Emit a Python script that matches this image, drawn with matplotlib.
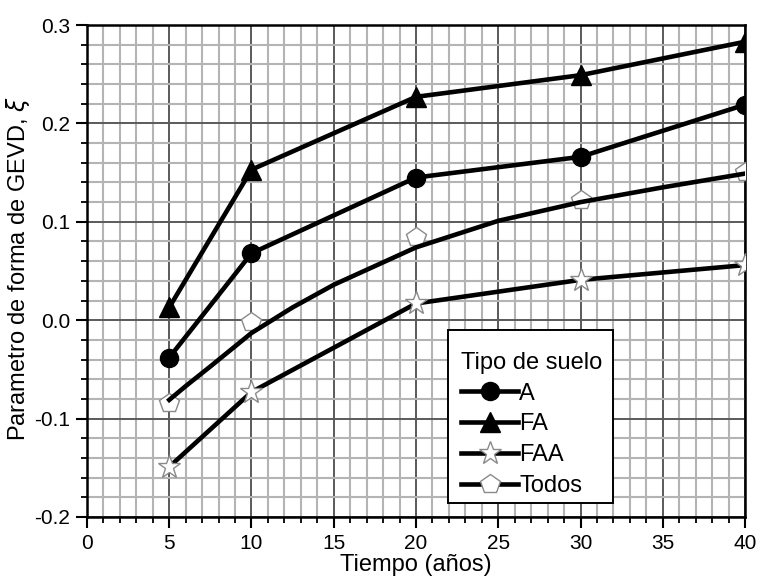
import matplotlib
matplotlib.use("Agg")
import matplotlib.pyplot as plt
from matplotlib.lines import Line2D
from matplotlib.patches import Rectangle
from matplotlib.ticker import MultipleLocator

plt.rcParams['font.family'] = ['Liberation Sans', 'DejaVu Sans']
plt.rcParams['mathtext.fontset'] = 'dejavusans'

# Return period (years) and GEVD shape parameter per soil type
tiempo = [5, 10, 20, 30, 40]
xi_A = [-0.038, 0.068, 0.145, 0.166, 0.219]
xi_FA = [0.013, 0.153, 0.227, 0.249, 0.283]
xi_FAA = [-0.149, -0.073, 0.017, 0.041, 0.056]
xi_todos = [-0.084, -0.002, 0.085, 0.122, 0.151]

# Fitted trend curve for all soils combined
tiempo_ajuste = [5, 6, 7.5, 10, 12.5, 15, 20, 25, 30, 35, 40]
todos_ajuste = [-0.081, -0.067, -0.047, -0.013, 0.013, 0.036, 0.074, 0.101,
                0.120, 0.135, 0.149]

fig = plt.figure(figsize=(7.59, 5.79), dpi=100)
ax = fig.add_axes([0.1146, 0.1071, 0.8670, 0.8497])

lw = 3.3
sty_A = dict(color='black', lw=lw, marker='o', ms=13, mfc='black', mec='black')
sty_FA = dict(color='black', lw=lw, marker='^', ms=14, mfc='black', mec='black')
sty_FAA = dict(color='black', lw=lw, marker='*', ms=17, mfc='white',
               mec='#8a8a8a', mew=1.0)
sty_T = dict(color='black', lw=lw, marker='p', ms=15, mfc='white',
             mec='#8a8a8a', mew=1.0)

ax.plot(tiempo, xi_A, zorder=5, **sty_A)
ax.plot(tiempo, xi_FA, zorder=5, **sty_FA)
ax.plot(tiempo, xi_FAA, zorder=5, **sty_FAA)
ax.plot(tiempo, xi_todos, ls='none', marker='p', ms=15, mfc='white',
        mec='#8a8a8a', mew=1.0, zorder=4)
ax.plot(tiempo_ajuste, todos_ajuste, color='black', lw=lw, zorder=5,
        solid_joinstyle='round')

ax.set_xlim(0, 40)
ax.set_ylim(-0.2, 0.3)
ax.xaxis.set_major_locator(MultipleLocator(5))
ax.xaxis.set_minor_locator(MultipleLocator(1))
ax.yaxis.set_major_locator(MultipleLocator(0.1))
ax.yaxis.set_minor_locator(MultipleLocator(0.02))
ax.yaxis.set_major_formatter(plt.FuncFormatter(lambda v, p: f"{v:.1f}"))

ax.grid(which='minor', color='#b4b4b4', lw=1.5, zorder=0)
ax.grid(which='major', color='#5a5a5a', lw=1.4, zorder=1)
ax.set_axisbelow(True)

for s in ax.spines.values():
    s.set_linewidth(1.8)
ax.tick_params(which='major', direction='out', length=8, width=1.5,
               labelsize=15, colors='black', pad=4)
ax.tick_params(which='minor', direction='out', length=4.5, width=1.3)

ax.set_xlabel('Tiempo (años)', fontsize=17, labelpad=1)
ax.set_ylabel(r'Parametro de forma de GEVD, $\xi$', fontsize=17)
ax.yaxis.set_label_coords(-0.083, 0.505)

# Legend box drawn as a separate white panel
ax.add_patch(Rectangle((0.549, 0.0285), 0.2508, 0.3516, transform=ax.transAxes,
                       facecolor='white', edgecolor='black', lw=1.4,
                       zorder=9, clip_on=False))

handles = [Line2D([], [], **sty_A), Line2D([], [], **sty_FA),
           Line2D([], [], **sty_FAA), Line2D([], [], **sty_T)]
leg = ax.legend(handles, ['A', 'FA', 'FAA', 'Todos'], title='Tipo de suelo',
                loc='upper left', bbox_to_anchor=(0.549, 0.3618),
                borderaxespad=0, alignment='left',
                fontsize=17, title_fontsize=17, frameon=False,
                handlelength=2.4, handletextpad=0.05, labelspacing=0.37,
                borderpad=0.55)
leg.set_zorder(10)

fig.savefig('out.png', dpi=100)
